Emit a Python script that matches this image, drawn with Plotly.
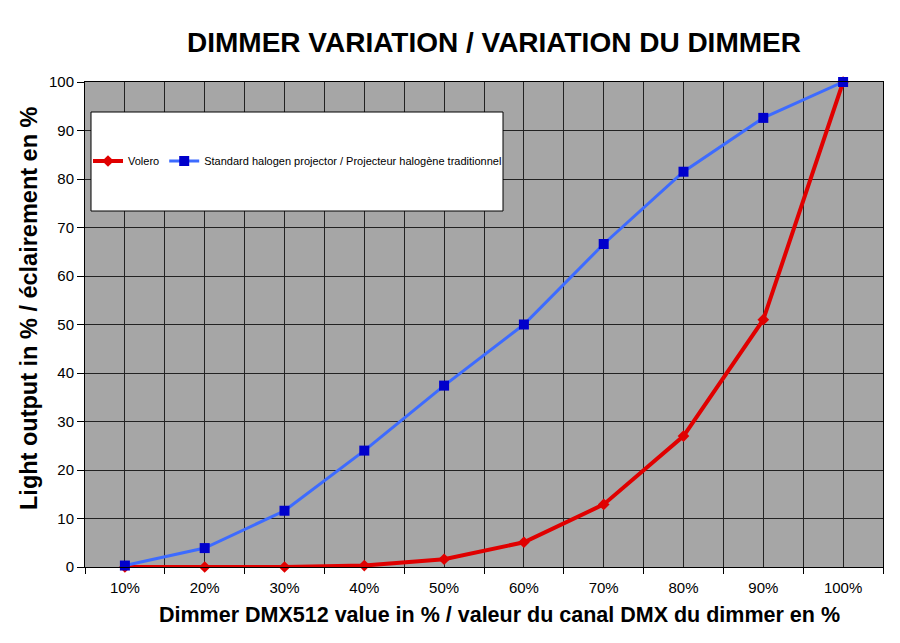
import plotly.graph_objects as go

categories = ["10%", "20%", "30%", "40%", "50%", "60%", "70%", "80%", "90%", "100%"]
volero = [0.0, 0.0, 0.0, 0.3, 1.6, 5.1, 12.9, 27.0, 51.0, 100.0]
halogen = [0.3, 3.9, 11.6, 24.0, 37.4, 50.0, 66.6, 81.5, 92.6, 100.0]
yticks = [0, 10, 20, 30, 40, 50, 60, 70, 80, 90, 100]

xpos = list(range(len(categories)))
bounds = [i - 0.5 for i in range(len(categories) + 1)]

FONT = "Liberation Sans, Arial, sans-serif"
OFF = 8  # page body margin
W, H = 900 - OFF, 643 - OFF
L, R, T, B = 85 - OFF, 900 - 883, 82 - OFF, 643 - 567
PW, PH = W - L - R, H - T - B


def px_x(x):
    return (x - OFF - L) / PW


def px_y(y):
    return (H - B - (y - OFF)) / PH


fig = go.Figure()
fig.add_trace(go.Scatter(
    x=xpos, y=volero, name="Volero", mode="lines+markers",
    line=dict(color="#e00000", width=4),
    marker=dict(symbol="diamond", size=9, color="#e00000"),
    cliponaxis=False,
))
fig.add_trace(go.Scatter(
    x=xpos, y=halogen, name="Standard halogen projector / Projecteur halogène traditionnel",
    mode="lines+markers",
    line=dict(color="#3d6bff", width=3),
    marker=dict(symbol="square", size=10, color="#0000cc"),
    cliponaxis=False,
))

fig.add_shape(type="rect", xref="paper", yref="paper",
              x0=px_x(91), x1=px_x(503), y0=px_y(211), y1=px_y(112),
              fillcolor="white", line=dict(color="black", width=1), layer="above")

fig.add_annotation(text="<b>Dimmer DMX512 value in % / valeur du canal DMX du dimmer en %</b>",
                   xref="paper", yref="paper", x=px_x(499), y=px_y(615),
                   xanchor="center", yanchor="middle", showarrow=False,
                   font=dict(size=21.5, family=FONT, color="black"))
fig.add_annotation(text="<b>Light output in % / éclairement en %</b>",
                   xref="paper", yref="paper", x=px_x(29), y=px_y(308),
                   xanchor="center", yanchor="middle", showarrow=False, textangle=-90,
                   font=dict(size=23.5, family=FONT, color="black"))

fig.update_layout(
    width=W, height=H,
    margin=dict(l=L, r=R, t=T, b=B, autoexpand=False),
    paper_bgcolor="white", plot_bgcolor="#a6a6a6",
    font=dict(family=FONT, color="black", size=15),
    title=dict(text="<b>DIMMER VARIATION / VARIATION DU DIMMER</b>",
               x=(494 - OFF) / W, xanchor="center", y=1 - (42 - OFF) / H, yanchor="middle",
               font=dict(size=28, family=FONT)),
    showlegend=True,
    legend=dict(orientation="h", x=px_x(88), xanchor="left",
                y=px_y(161), yanchor="middle",
                bgcolor="rgba(0,0,0,0)", borderwidth=0,
                font=dict(size=11, family=FONT), itemwidth=30,
                tracegroupgap=0),
    xaxis=dict(
        range=[-0.5, 9.5], tickvals=xpos, ticktext=categories,
        showgrid=True, gridcolor="#222222", gridwidth=1,
        ticks="", showline=True, linecolor="black", linewidth=1, mirror=True,
        zeroline=False, tickfont=dict(size=15), ticklabelstandoff=7,
        minor=dict(tickvals=bounds, showgrid=True, gridcolor="#222222", gridwidth=1,
                   ticks="outside", ticklen=6, tickcolor="black"),
        automargin=False,
    ),
    yaxis=dict(
        range=[0, 100], tickvals=yticks, showgrid=True, gridcolor="#222222", gridwidth=1,
        ticks="outside", ticklen=7, tickcolor="black",
        showline=True, linecolor="black", linewidth=1, mirror=True, zeroline=False,
        tickfont=dict(size=15),
        automargin=False,
    ),
)

fig.write_html("out.html")
